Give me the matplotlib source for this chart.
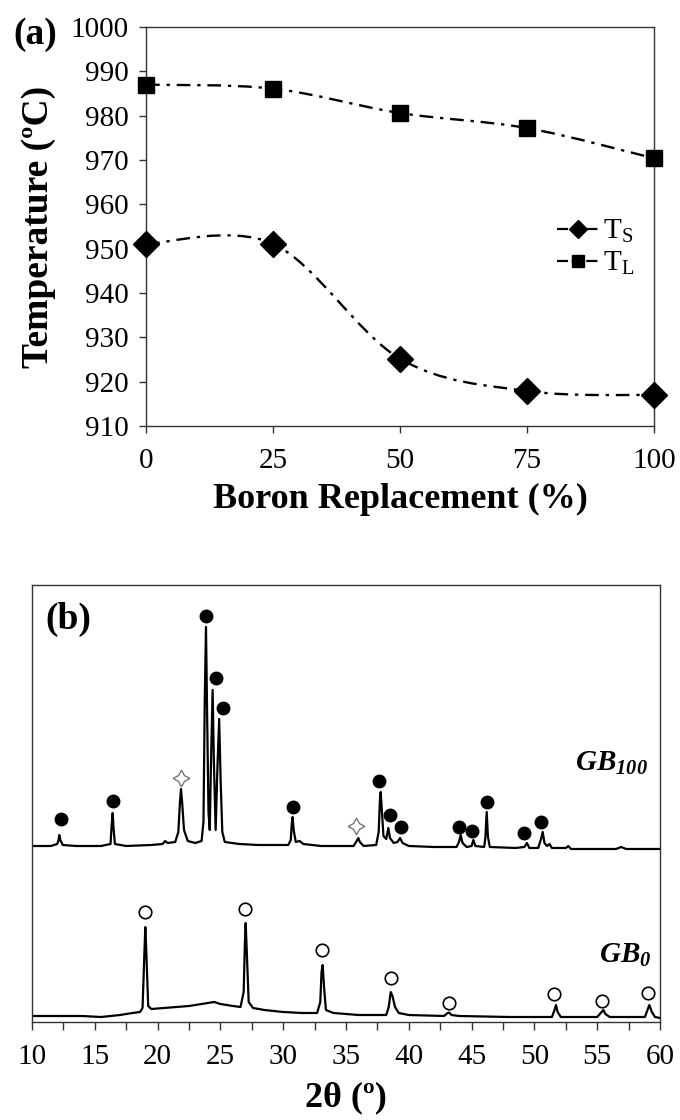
import numpy as np
import matplotlib
matplotlib.use("Agg")
import matplotlib.pyplot as plt
from matplotlib.path import Path
from matplotlib.patches import PathPatch
from matplotlib.lines import Line2D

plt.rcParams['font.family'] = ['Liberation Serif', 'DejaVu Serif']
plt.rcParams['mathtext.fontset'] = 'custom'
plt.rcParams['mathtext.rm'] = 'Liberation Serif'
plt.rcParams['mathtext.it'] = 'Liberation Serif:italic'
plt.rcParams['mathtext.bf'] = 'Liberation Serif:bold'
plt.rcParams['mathtext.bfit'] = 'Liberation Serif:italic:bold'

# ---------------- Panel (a) data ----------------
boron_pct = [0, 25, 50, 75, 100]
t_solidus = [951.1, 951.1, 925.2, 917.9, 917.0]
t_liquidus = [987.0, 986.1, 980.6, 977.2, 970.4]
temp_ticks = [910, 920, 930, 940, 950, 960, 970, 980, 990, 1000]

# ---------------- Panel (b) data ----------------
gb100_2theta = [10.0, 11.5, 12.0, 12.1, 12.17, 12.25, 12.45, 13.5, 15.5, 16.25, 16.33, 16.42, 16.5, 16.6,
                17.5, 19.5, 20.4, 20.6, 20.8, 21.4, 21.65, 21.78, 21.86, 21.95, 22.1, 22.4, 23.0, 23.5,
                23.65, 23.75, 23.85, 23.95, 24.05, 24.15, 24.25, 24.38, 24.48, 24.62, 24.75, 24.9, 25.02,
                25.15, 25.35, 26.5, 28.0, 30.4, 30.6, 30.68, 30.75, 30.83, 31.0, 31.3, 31.6, 33.0, 35.6,
                35.85, 35.98, 36.1, 36.4, 37.4, 37.6, 37.7, 37.76, 37.84, 37.98, 38.2, 38.37, 38.5, 38.8,
                39.1, 39.3, 39.5, 40.0, 42.0, 43.8, 44.0, 44.13, 44.28, 44.6, 45.0, 45.14, 45.3, 46.0,
                46.1, 46.2, 46.3, 46.45, 48.5, 49.2, 49.4, 49.6, 50.3, 50.55, 50.66, 50.8, 51.0, 51.2,
                51.4, 52.5, 52.7, 52.9, 56.5, 56.9, 57.3, 60.0]
gb100_int = [176, 176, 178, 181, 187, 182, 177, 176, 176, 178, 195, 209, 192, 178,
             176, 177, 178, 181, 179, 180, 190, 220, 233, 220, 192, 181, 179, 181,
             200, 320, 395, 300, 210, 192, 260, 332, 260, 192, 250, 303, 240,
             190, 180, 178, 177, 177, 182, 198, 205, 192, 180, 181, 178, 176, 176,
             181, 184, 180, 176, 177, 190, 222, 230, 214, 186, 183, 194, 184, 179,
             180, 184, 179, 176, 175, 175, 180, 187, 179, 175, 176, 182, 176, 175,
             185, 210, 185, 175, 174, 175, 179, 174, 174, 184, 190, 179, 176, 178,
             174, 174, 176, 173, 173, 175, 173, 173]

gb0_2theta = [10.0, 12.0, 14.0, 15.5, 17.0, 18.0, 18.6, 18.8, 18.95, 19.02, 19.1, 19.25, 19.5, 20.5,
              21.5, 22.5, 23.5, 24.0, 24.5, 25.0, 26.0, 26.6, 26.85, 26.95, 27.01, 27.1, 27.25, 27.6,
              28.5, 30.0, 31.5, 32.7, 32.95, 33.05, 33.14, 33.25, 33.4, 34.0, 36.0, 38.2, 38.4, 38.56,
              38.7, 38.9, 39.2, 40.0, 42.8, 43.1, 43.2, 43.4, 44.0, 48.0, 51.4, 51.6, 51.72, 51.85,
              52.1, 55.0, 55.35, 55.49, 55.65, 56.0, 58.8, 59.0, 59.15, 59.35, 59.6, 60.0]
gb0_int = [6, 6, 6, 5, 7, 9, 10, 14, 70, 95, 70, 16, 13, 14,
           15, 16, 18, 19, 20, 18, 16, 15, 30, 80, 99, 70, 20, 14,
           12, 10, 9, 9, 20, 50, 57, 35, 12, 9, 7, 7, 15, 30,
           26, 15, 9, 7, 6, 9, 9.5, 7, 6, 5, 5, 12, 17, 10,
           5, 5, 10, 12, 8, 5, 5, 12, 17, 10, 5, 4]

# phase markers (2theta, intensity)
filled_x = [12.31, 16.45, 23.83, 24.65, 25.18, 30.76, 37.63, 38.5, 39.35, 44.0, 45.03, 46.23, 49.17, 50.53]
filled_y = [203, 221, 406, 344, 314, 215, 241, 207, 195, 195, 191, 220, 189, 200]
star_x = [21.86, 35.8]
star_y = [244, 196]
open_x = [19.02, 26.98, 33.07, 38.58, 43.2, 51.58, 55.41, 59.07]
open_y = [110, 113, 72, 44, 19, 28, 21, 29]
xrd_ticks = [10, 15, 20, 25, 30, 35, 40, 45, 50, 55, 60]

LS = (0, (5.8, 2.9, 1.4, 2.9))
SPINE = '#333333'


def smooth_path(xs, ys):
    pts = np.column_stack([xs, ys]).astype(float)
    n = len(pts)
    verts = [pts[0]]
    codes = [Path.MOVETO]
    for i in range(n - 1):
        p0 = pts[i - 1] if i > 0 else pts[i]
        p1 = pts[i]
        p2 = pts[i + 1]
        p3 = pts[i + 2] if i + 2 < n else pts[i + 1]
        verts += [p1 + (p2 - p0) / 6.0, p2 - (p3 - p1) / 6.0, p2]
        codes += [Path.CURVE4] * 3
    return Path(verts, codes)


fig = plt.figure(figsize=(6.8, 11.2), dpi=100)

# ---------------- Panel (a) ----------------
ax1 = fig.add_axes([0.2147, 0.6196, 0.7471, 0.3563])
for ys in (t_solidus, t_liquidus):
    ax1.add_patch(PathPatch(smooth_path(boron_pct, ys), fill=False, lw=1.7,
                            linestyle=LS, edgecolor='black', transform=ax1.transData))
ax1.plot(boron_pct, t_solidus, ls='none', marker='D', ms=13, color='black', clip_on=False, zorder=5)
ax1.plot(boron_pct, t_liquidus, ls='none', marker='s', ms=11.5, color='black', clip_on=False, zorder=5)
ax1.set_xlim(0, 100)
ax1.set_ylim(910, 1000)
ax1.set_xticks(boron_pct)
ax1.set_yticks(temp_ticks)
ax1.tick_params(axis='both', direction='out', length=5, width=1.0, labelsize=21, color=SPINE)
ax1.tick_params(axis='x', pad=11)
ax1.tick_params(axis='y', pad=7.5)
for s in ax1.spines.values():
    s.set_color(SPINE)
    s.set_linewidth(1.0)
ax1.set_xlabel('Boron Replacement (%)', fontsize=26, fontweight='bold', labelpad=6)
ax1.set_ylabel('Temperature (ºC)', fontsize=27, fontweight='bold')
ax1.yaxis.set_label_coords(-0.178, 0.5)

h_s = Line2D([], [], color='black', lw=1.6, ls=(0, (5, 1.6)), marker='D', ms=9)
h_l = Line2D([], [], color='black', lw=1.6, ls=(0, (5, 1.6)), marker='s', ms=9)
ax1.legend([h_s, h_l], ['$\\mathregular{T_S}$', '$\\mathregular{T_L}$'], loc='center left',
           bbox_to_anchor=(0.797, 0.447), frameon=False, fontsize=21, handlelength=1.45,
           handletextpad=0.15, labelspacing=0.15, borderpad=0.2, borderaxespad=0)
fig.text(0.019, 0.969, '(a)', fontsize=27, fontweight='bold', ha='left', va='center')

# ---------------- Panel (b) ----------------
ax2 = fig.add_axes([0.0471, 0.0875, 0.9235, 0.3902])
ax2.plot(gb100_2theta, gb100_int, color='black', lw=1.6)
ax2.plot(gb0_2theta, gb0_int, color='black', lw=1.6)
ax2.plot(filled_x, filled_y, ls='none', marker='o', ms=9, color='black')
ax2.plot(star_x, star_y, ls='none', marker=(4, 1, 0), ms=12, markerfacecolor='white',
         markeredgecolor='#777777', markeredgewidth=1.0)
ax2.plot(open_x, open_y, ls='none', marker='o', ms=9, markerfacecolor='white',
         markeredgecolor='black', markeredgewidth=1.2)
ax2.set_xlim(10, 60)
ax2.set_ylim(0, 437)
ax2.set_xticks(xrd_ticks)
ax2.set_xticks(np.arange(12.5, 60, 5), minor=True)
ax2.set_yticks([])
ax2.tick_params(axis='x', which='both', direction='out', length=6, width=1.0, color=SPINE)
ax2.tick_params(axis='x', which='major', labelsize=21, pad=10)
for s in ax2.spines.values():
    s.set_color(SPINE)
    s.set_linewidth(1.0)
ax2.set_xlabel('2θ (º)', fontsize=26, fontweight='bold', labelpad=8)
ax2.text(0.022, 0.922, '(b)', transform=ax2.transAxes, fontsize=27, fontweight='bold',
         ha='left', va='center')
ax2.text(59.04, 259, '$\\mathbfit{GB_{100}}$', fontsize=21, ha='right', va='center')
ax2.text(59.36, 67, '$\\mathbfit{GB_{0}}$', fontsize=21, ha='right', va='center')

fig.savefig('out.png', dpi=100)
